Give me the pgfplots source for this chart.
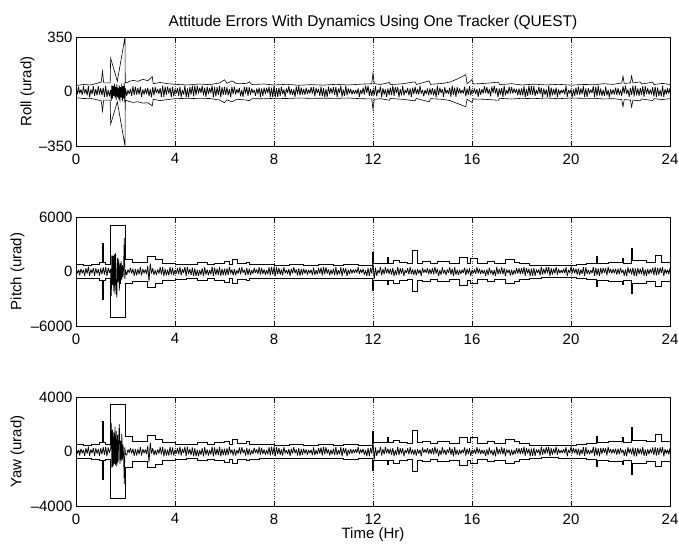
\documentclass[border=0pt]{standalone}
\usepackage{fontspec}
\setmainfont{Liberation Sans}
\usepackage{pgfplots}
\pgfplotsset{compat=1.18}
\usepackage{pgfplotstable}

\pgfplotstableread{
t r p y
0.00 16 270 184
0.05 -19 -230 -156
0.10 31 190 128
0.15 -13 -430 -296
0.20 13 310 212
0.25 -22 -190 -128
0.30 34 190 128
0.35 -13 -470 -324
0.40 16 350 240
0.45 -25 -230 -156
0.50 34 510 352
0.55 -37 -470 -324
0.60 13 230 156
0.65 -16 -190 -128
0.70 34 390 268
0.75 -28 -470 -324
0.80 16 350 240
0.85 -25 -230 -156
0.90 34 270 184
0.95 -19 -470 -324
1.00 22 350 240
1.05 -25 -310 -212
1.10 25 470 324
1.15 -34 -350 -240
1.20 37 510 352
1.25 -37 -510 -352
1.30 10 430 296
1.35 -31 -150 -100
1.400 10 300 200
1.425 -60 -2700 2100
1.450 40 1800 -1200
1.475 -45 -1500 1600
1.500 35 1700 -1100
1.525 -30 -2200 1400
1.550 50 1900 -900
1.575 -40 -2500 1800
1.600 30 2000 -1000
1.625 -55 -1800 1500
1.650 45 -2850 -1100
1.675 -35 1500 1200
1.700 25 -1200 -800
1.725 -50 1400 1000
1.750 40 -2100 2000
1.775 -65 900 -900
1.800 30 -1400 800
1.825 -40 1100 -700
1.850 50 -900 1300
1.875 -60 700 -600
1.900 35 -600 500
1.925 -45 500 -400
1.950 55 3700 -2400
1.975 -70 -800 300
2.000 20 200 -200
2.05 -28 -390 -268
2.10 10 230 156
2.15 -16 -150 -100
2.20 16 390 268
2.25 -28 -230 -156
2.30 34 310 212
2.35 -22 -470 -324
2.40 31 270 184
2.45 -19 -430 -296
2.50 22 270 184
2.55 -19 -310 -212
2.60 31 470 324
2.65 -34 -430 -296
2.70 13 270 184
2.75 -19 -190 -128
2.80 19 230 156
2.85 -16 -270 -184
2.90 25 600 420
2.95 -31 -1100 -800
3.00 16 900 650
3.05 -37 -230 -156
3.10 28 350 240
3.15 -25 -390 -268
3.20 28 150 100
3.25 -10 -390 -268
3.30 16 230 156
3.35 -16 -230 -156
3.40 22 470 324
3.45 -34 -310 -212
3.50 37 470 324
3.55 -34 -510 -352
3.60 31 310 212
3.65 -22 -430 -296
3.70 31 190 128
3.75 -13 -430 -296
3.80 25 510 352
3.85 -37 -350 -240
3.90 31 430 296
3.95 -31 -430 -296
4.00 16 190 128
4.05 -13 -230 -156
4.10 22 390 268
4.15 -28 -310 -212
4.20 31 510 352
4.25 -37 -430 -296
4.30 10 270 184
4.35 -19 -150 -100
4.40 37 510 352
4.45 -37 -510 -352
4.50 19 510 352
4.55 -37 -270 -184
4.60 28 270 184
4.65 -19 -390 -268
4.70 37 430 296
4.75 -31 -510 -352
4.80 37 350 240
4.85 -25 -510 -352
4.90 37 190 128
4.95 -13 -510 -352
5.00 25 150 100
5.05 -10 -350 -240
5.10 37 350 240
5.15 -25 -510 -352
5.20 25 470 324
5.25 -34 -350 -240
5.30 31 230 156
5.35 -16 -430 -296
5.40 22 150 100
5.45 -10 -310 -212
5.50 37 510 352
5.55 -37 -510 -352
5.60 28 430 296
5.65 -31 -390 -268
5.70 28 310 212
5.75 -22 -390 -268
5.80 37 510 352
5.85 -37 -510 -352
5.90 28 310 212
5.95 -22 -390 -268
6.00 31 310 212
6.05 -22 -430 -296
6.10 28 350 240
6.15 -25 -390 -268
6.20 16 510 352
6.25 -37 -230 -156
6.30 31 230 156
6.35 -16 -430 -296
6.40 31 270 184
6.45 -19 -430 -296
6.50 16 150 100
6.55 -10 -230 -156
6.60 22 430 296
6.65 -31 -310 -212
6.70 10 470 324
6.75 -34 -150 -100
6.80 31 190 128
6.85 -13 -430 -296
6.90 28 390 268
6.95 -28 -390 -268
7.00 28 310 212
7.05 -22 -390 -268
7.10 19 150 100
7.15 -10 -270 -184
7.20 10 390 268
7.25 -28 -150 -100
7.30 19 230 156
7.35 -16 -270 -184
7.40 25 470 324
7.45 -34 -350 -240
7.50 19 390 268
7.55 -28 -270 -184
7.60 25 230 156
7.65 -16 -350 -240
7.70 22 150 100
7.75 -10 -310 -212
7.80 31 470 324
7.85 -34 -430 -296
7.90 25 510 352
7.95 -37 -350 -240
8.00 37 510 352
8.05 -37 -510 -352
8.10 22 470 324
8.15 -34 -310 -212
8.20 25 390 268
8.25 -28 -350 -240
8.30 31 230 156
8.35 -16 -430 -296
8.40 13 470 324
8.45 -34 -190 -128
8.50 19 150 100
8.55 -10 -270 -184
8.60 34 270 184
8.65 -19 -470 -324
8.70 16 310 212
8.75 -22 -230 -156
8.80 13 470 324
8.85 -34 -190 -128
8.90 31 230 156
8.95 -16 -430 -296
9.00 34 350 240
9.05 -25 -470 -324
9.10 25 270 184
9.15 -19 -350 -240
9.20 16 310 212
9.25 -22 -230 -156
9.30 25 230 156
9.35 -16 -350 -240
9.40 13 190 128
9.45 -13 -190 -128
9.50 28 190 128
9.55 -13 -390 -268
9.60 28 430 296
9.65 -31 -390 -268
9.70 22 150 100
9.75 -10 -310 -212
9.80 16 390 268
9.85 -28 -230 -156
9.90 31 430 296
9.95 -31 -430 -296
10.00 22 510 352
10.05 -37 -310 -212
10.10 16 470 324
10.15 -34 -230 -156
10.20 31 230 156
10.25 -16 -430 -296
10.30 22 190 128
10.35 -13 -310 -212
10.40 28 310 212
10.45 -22 -390 -268
10.50 28 470 324
10.55 -34 -390 -268
10.60 19 150 100
10.65 -10 -270 -184
10.70 37 470 324
10.75 -34 -510 -352
10.80 13 390 268
10.85 -28 -190 -128
10.90 37 350 240
10.95 -25 -510 -352
11.00 19 190 128
11.05 -13 -270 -184
11.10 16 270 184
11.15 -19 -230 -156
11.20 10 230 156
11.25 -16 -150 -100
11.30 10 230 156
11.35 -16 -150 -100
11.40 19 470 324
11.45 -34 -270 -184
11.50 10 230 156
11.55 -16 -150 -100
11.60 25 270 184
11.65 -19 -350 -240
11.70 37 150 100
11.75 -10 -510 -352
11.80 37 390 268
11.85 -28 -510 -352
11.90 16 390 268
11.95 -28 -230 -156
12.00 13 900 650
12.05 -22 -850 -600
12.10 34 430 296
12.15 -31 -470 -324
12.20 13 150 100
12.25 -10 -190 -128
12.30 31 510 352
12.35 -37 -430 -296
12.40 22 270 184
12.45 -19 -310 -212
12.50 13 470 324
12.55 -34 -190 -128
12.60 19 310 212
12.65 -22 -270 -184
12.70 25 310 212
12.75 -22 -350 -240
12.80 37 390 268
12.85 -28 -510 -352
12.90 28 150 100
12.95 -10 -390 -268
13.00 28 510 352
13.05 -37 -390 -268
13.10 16 350 240
13.15 -25 -230 -156
13.20 37 350 240
13.25 -25 -510 -352
13.30 10 150 100
13.35 -10 -150 -100
13.40 22 350 240
13.45 -25 -310 -212
13.50 19 470 324
13.55 -34 -270 -184
13.60 25 230 156
13.65 -16 -350 -240
13.70 31 230 156
13.75 -16 -430 -296
13.80 16 270 184
13.85 -19 -230 -156
13.90 37 190 128
13.95 -13 -510 -352
14.00 10 430 296
14.05 -31 -150 -100
14.10 10 230 156
14.15 -16 -150 -100
14.20 19 350 240
14.25 -25 -270 -184
14.30 19 270 184
14.35 -19 -270 -184
14.40 22 350 240
14.45 -25 -310 -212
14.50 16 510 352
14.55 -37 -230 -156
14.60 37 310 212
14.65 -22 -510 -352
14.70 25 150 100
14.75 -10 -350 -240
14.80 16 470 324
14.85 -34 -230 -156
14.90 28 190 128
14.95 -13 -390 -268
15.00 10 230 156
15.05 -16 -150 -100
15.10 25 470 324
15.15 -34 -350 -240
15.20 37 310 212
15.25 -22 -510 -352
15.30 25 470 324
15.35 -34 -350 -240
15.40 28 190 128
15.45 -13 -390 -268
15.50 19 190 128
15.55 -13 -270 -184
15.60 10 190 128
15.65 -13 -150 -100
15.70 31 430 296
15.75 -31 -430 -296
15.80 19 310 212
15.85 -22 -270 -184
15.90 34 350 240
15.95 -25 -470 -324
16.00 13 150 100
16.05 -10 -190 -128
16.10 19 230 156
16.15 -16 -270 -184
16.20 16 470 324
16.25 -34 -230 -156
16.30 19 310 212
16.35 -22 -270 -184
16.40 16 190 128
16.45 -13 -230 -156
16.50 34 150 100
16.55 -10 -470 -324
16.60 28 230 156
16.65 -16 -390 -268
16.70 16 430 296
16.75 -31 -230 -156
16.80 31 150 100
16.85 -10 -430 -296
16.90 37 190 128
16.95 -13 -510 -352
17.00 22 510 352
17.05 -37 -310 -212
17.10 19 270 184
17.15 -19 -270 -184
17.20 22 470 324
17.25 -34 -310 -212
17.30 37 350 240
17.35 -25 -510 -352
17.40 10 230 156
17.45 -16 -150 -100
17.50 31 190 128
17.55 -13 -430 -296
17.60 28 190 128
17.65 -13 -390 -268
17.70 19 150 100
17.75 -10 -270 -184
17.80 16 350 240
17.85 -25 -230 -156
17.90 19 350 240
17.95 -25 -270 -184
18.00 19 350 240
18.05 -25 -270 -184
18.10 34 510 352
18.15 -37 -470 -324
18.20 16 390 268
18.25 -28 -230 -156
18.30 37 310 212
18.35 -22 -510 -352
18.40 34 310 212
18.45 -22 -470 -324
18.50 34 390 268
18.55 -28 -470 -324
18.60 10 230 156
18.65 -16 -150 -100
18.70 31 230 156
18.75 -16 -430 -296
18.80 25 510 352
18.85 -37 -350 -240
18.90 19 310 212
18.95 -22 -270 -184
19.00 13 470 324
19.05 -34 -190 -128
19.10 37 510 352
19.15 -37 -510 -352
19.20 25 350 240
19.25 -25 -350 -240
19.30 16 310 212
19.35 -22 -230 -156
19.40 25 510 352
19.45 -37 -350 -240
19.50 13 270 184
19.55 -19 -190 -128
19.60 10 150 100
19.65 -10 -150 -100
19.70 13 270 184
19.75 -19 -190 -128
19.80 37 470 324
19.85 -34 -510 -352
19.90 10 190 128
19.95 -13 -150 -100
20.00 13 510 352
20.05 -37 -190 -128
20.10 13 390 268
20.15 -28 -190 -128
20.20 25 310 212
20.25 -22 -350 -240
20.30 31 310 212
20.35 -22 -430 -296
20.40 19 230 156
20.45 -16 -270 -184
20.50 34 470 324
20.55 -34 -470 -324
20.60 19 470 324
20.65 -34 -270 -184
20.70 22 190 128
20.75 -13 -310 -212
20.80 13 150 100
20.85 -10 -190 -128
20.90 34 510 352
20.95 -37 -470 -324
21.00 31 430 296
21.05 -31 -430 -296
21.10 37 350 240
21.15 -25 -510 -352
21.20 19 390 268
21.25 -28 -270 -184
21.30 10 390 268
21.35 -28 -150 -100
21.40 31 350 240
21.45 -25 -430 -296
21.50 10 510 352
21.55 -37 -150 -100
21.60 16 270 184
21.65 -19 -230 -156
21.70 13 270 184
21.75 -19 -190 -128
21.80 25 310 212
21.85 -22 -350 -240
21.90 22 310 212
21.95 -22 -310 -212
22.00 10 390 268
22.05 -28 -150 -100
22.10 34 190 128
22.15 -13 -470 -324
22.20 37 230 156
22.25 -16 -510 -352
22.30 13 470 324
22.35 -34 -190 -128
22.40 22 310 212
22.45 -22 -310 -212
22.50 37 430 296
22.55 -31 -510 -352
22.60 37 350 240
22.65 -25 -510 -352
22.70 19 390 268
22.75 -28 -270 -184
22.80 22 310 212
22.85 -22 -310 -212
22.90 34 470 324
22.95 -34 -470 -324
23.00 34 230 156
23.05 -16 -470 -324
23.10 22 270 184
23.15 -19 -310 -212
23.20 13 270 184
23.25 -19 -190 -128
23.30 28 430 296
23.35 -31 -390 -268
23.40 31 470 324
23.45 -34 -430 -296
23.50 25 390 268
23.55 -28 -350 -240
23.60 10 430 296
23.65 -31 -150 -100
23.70 37 470 324
23.75 -34 -510 -352
23.80 16 270 184
23.85 -19 -230 -156
23.90 22 190 128
23.95 -13 -310 -212
24.00 22 390 268
}\sig

\pgfplotstableread{
t u l
0.00 38 -40
0.30 45 -45
0.60 42 -44
0.90 55 -55
1.02 60 -60
1.07 130 -125
1.12 55 -55
1.38 55 -55
1.40 214 -210
1.67 66 -66
1.98 350 -350
1.99 55 -55
2.10 60 -62
2.30 72 -70
2.50 65 -66
2.70 78 -75
2.90 70 -72
3.08 95 -92
3.12 50 -50
3.40 58 -58
3.70 50 -52
4.00 46 -46
4.50 42 -44
5.00 48 -46
5.40 44 -45
5.80 55 -55
6.00 75 -72
6.10 52 -54
6.30 68 -66
6.50 50 -50
6.90 52 -55
7.00 62 -60
7.10 45 -46
7.60 48 -47
8.00 42 -44
8.50 46 -45
9.00 40 -42
9.50 44 -44
10.00 41 -43
10.50 46 -44
11.00 42 -42
11.50 47 -46
11.95 50 -48
12.00 120 -115
12.05 50 -50
12.30 45 -46
12.66 58 -56
12.70 44 -45
13.20 50 -50
13.70 62 -60
13.75 45 -45
14.27 68 -66
14.32 46 -46
14.80 52 -50
15.10 60 -58
15.40 80 -76
15.75 108 -98
15.80 50 -50
16.00 76 -70
16.05 48 -48
16.50 52 -50
17.07 60 -56
17.12 44 -44
17.60 50 -48
18.00 42 -44
18.50 47 -46
19.00 42 -42
19.50 46 -46
20.00 41 -42
20.50 45 -44
21.00 44 -44
21.30 50 -48
21.70 46 -46
22.05 55 -52
22.10 98 -98
22.15 52 -52
22.40 55 -55
22.45 100 -100
22.50 55 -55
22.80 62 -60
22.85 48 -48
23.30 60 -58
23.35 45 -46
23.70 52 -52
24.00 45 -46
}\renv

\pgfplotstableread{
t u l
0.00 750 -780
0.30 680 -700
0.60 800 -800
0.95 1000 -1000
1.05 3100 -3050
1.09 1000 -1000
1.20 800 -800
1.40 5100 -5000
1.98 1350 -1350
2.27 1050 -1100
2.87 1700 -1700
3.20 1350 -1350
3.47 950 -980
4.00 820 -850
4.47 750 -780
4.90 1000 -1000
5.30 800 -800
5.60 950 -930
6.00 1150 -1150
6.20 800 -800
6.33 1350 -1300
6.53 850 -850
6.90 1050 -950
7.00 800 -800
7.40 760 -780
8.00 700 -720
8.60 780 -760
9.20 680 -700
9.80 760 -760
10.40 700 -700
10.80 800 -800
11.40 720 -740
11.97 2150 -2070
12.03 950 -950
12.58 1560 -1420
12.63 950 -950
12.80 1250 -1300
13.07 1000 -950
13.40 850 -850
13.60 2300 -2150
13.80 950 -950
14.00 1100 -1100
14.30 850 -850
14.60 1100 -1050
15.10 900 -900
15.48 1560 -1500
15.82 950 -950
15.95 1500 -1300
16.20 850 -850
16.60 1100 -1100
16.90 900 -900
17.35 1300 -1300
17.70 1050 -1050
17.90 850 -850
18.30 720 -720
18.80 650 -650
19.50 700 -690
20.20 760 -760
20.60 850 -850
21.02 1670 -1600
21.06 950 -950
21.50 1050 -1050
22.07 1500 -1400
22.12 950 -950
22.43 2580 -2440
22.47 1200 -1300
23.05 1050 -1050
23.40 1780 -1600
23.65 1050 -1050
24.00 1050 -1050
}\penv

\pgfplotstableread{
t u l
0.00 510 -530
0.30 460 -475
0.60 545 -545
0.95 680 -680
1.05 2200 -2050
1.09 680 -680
1.20 545 -545
1.40 3500 -3450
1.98 1150 -1150
2.27 715 -750
2.87 1160 -1160
3.20 920 -920
3.47 645 -665
4.00 560 -580
4.47 510 -530
4.90 680 -680
5.30 545 -545
5.60 645 -630
6.00 780 -780
6.20 545 -545
6.33 920 -885
6.53 580 -580
6.90 715 -645
7.00 545 -545
7.40 515 -530
8.00 475 -490
8.60 530 -515
9.20 460 -475
9.80 515 -515
10.40 475 -475
10.80 545 -545
11.40 490 -505
11.97 1460 -1410
12.03 645 -645
12.58 1060 -965
12.63 645 -645
12.80 850 -885
13.07 680 -645
13.40 580 -580
13.60 1560 -1460
13.80 645 -645
14.00 750 -750
14.30 580 -580
14.60 750 -715
15.10 610 -610
15.48 1060 -1020
15.82 645 -645
15.95 1020 -885
16.20 580 -580
16.60 750 -750
16.90 610 -610
17.35 885 -885
17.70 715 -715
17.90 580 -580
18.30 490 -490
18.80 440 -440
19.50 475 -470
20.20 515 -515
20.60 580 -580
21.02 1140 -1090
21.06 645 -645
21.50 715 -715
22.07 1020 -950
22.12 645 -645
22.43 1800 -1700
22.47 820 -885
23.05 715 -715
23.40 1250 -1120
23.65 715 -715
24.00 715 -715
}\yenv

\pgfplotsset{
  myax/.style={
    width=594pt, height=109pt, scale only axis,
    xmin=0, xmax=24, xtick={0,4,...,24},
    scaled ticks=false,
    xmajorgrids,
    major grid style={dotted, black!75, line width=0.5pt},
    tick align=inside, major tick length=5pt,
    tick style={black, line width=0.5pt},
    ticklabel style={font=\fontsize{15}{17}\selectfont},
    xticklabel style={yshift=-4pt},
    label style={font=\fontsize{15}{17}\selectfont},
    /pgf/number format/assume math mode=true,
    axis line style={black, line width=0.6pt},
    anchor=south west,
  },
  sigst/.style={black, no markers, line width=0.75pt, line join=bevel},
  envst/.style={black, no markers, line width=0.6pt},
}

\begin{document}
\begin{tikzpicture}
\path[use as bounding box] (0,0) rectangle (679pt,548pt);

\begin{axis}[myax, at={(76pt,402pt)},
  ymin=-350, ymax=350, ytick={-350,0,350},
  yticklabels={\textendash350,0,350},
  ylabel={Roll (urad)},
  ylabel style={at={(axis description cs:-0.064,0.5)}, anchor=south},
  title={Attitude Errors With Dynamics Using One Tracker (QUEST)},
  title style={font=\fontsize{15.5}{18}\selectfont},
  every axis title shift=4pt]
\addplot[sigst] table[x=t,y=r]{\sig};
\addplot[envst] table[x=t,y=u]{\renv};
\addplot[envst] table[x=t,y=l]{\renv};
\end{axis}

\begin{axis}[myax, at={(76pt,222pt)},
  ymin=-6000, ymax=6000, ytick={-6000,0,6000},
  yticklabels={\textendash6000,0,6000},
  ylabel={Pitch (urad)},
  ylabel style={at={(axis description cs:-0.0808,0.5)}, anchor=south}]
\addplot[sigst] table[x=t,y=p]{\sig};
\addplot[envst, const plot] table[x=t,y=u]{\penv};
\addplot[envst, const plot] table[x=t,y=l]{\penv};
\end{axis}

\begin{axis}[myax, at={(76pt,42pt)},
  ymin=-4000, ymax=4000, ytick={-4000,0,4000},
  yticklabels={\textendash4000,0,4000},
  ylabel={Yaw (urad)},
  ylabel style={at={(axis description cs:-0.0808,0.5)}, anchor=south},
  xlabel={Time (Hr)},
  xlabel style={at={(axis description cs:0.5,-0.17)}, anchor=north}]
\addplot[sigst] table[x=t,y=y]{\sig};
\addplot[envst, const plot] table[x=t,y=u]{\yenv};
\addplot[envst, const plot] table[x=t,y=l]{\yenv};
\end{axis}
\end{tikzpicture}
\end{document}
